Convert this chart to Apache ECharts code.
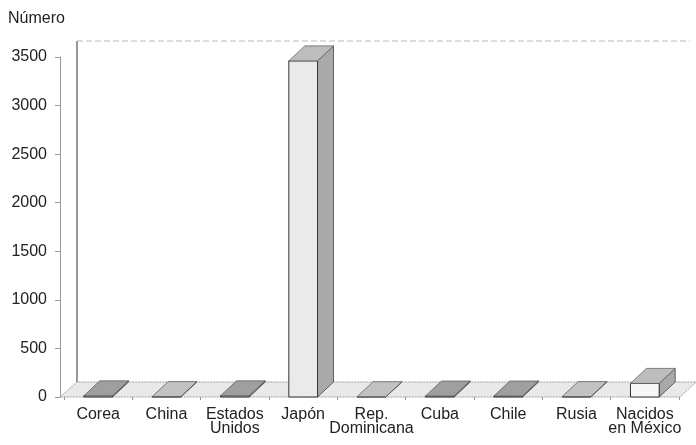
<!DOCTYPE html>
<html>
<head>
<meta charset="utf-8">
<script src="https://cdn.jsdelivr.net/npm/echarts@6/dist/echarts.min.js"></script>
<style>
  html, body { margin: 0; padding: 0; background: #fff; }
  #chart { width: 696px; height: 445px; }
</style>
</head>
<body>
<div id="chart"></div>
<script>
// categorías y valores
var paises = ['Corea', 'China', 'Estados\nUnidos', 'Japón', 'Rep.\nDominicana', 'Cuba', 'Chile', 'Rusia', 'Nacidos\nen México'];
var numero = [12, 4, 12, 3460, 3, 10, 10, 4, 140];
var yTicks = [0, 500, 1000, 1500, 2000, 2500, 3000, 3500];

var FONT = '"Liberation Sans", Arial, sans-serif';
var DX = 16, DY = 15; // profundidad 3D

var chart = echarts.init(document.getElementById('chart'));

// piso y pared del fondo
function renderFrame(params, api) {
    var cs = params.coordSys;
    var xl = cs.x - 4, xr = cs.x + cs.width + 1;
    var yb = cs.y + cs.height;
    var backX = xl + 17, backY = yb - 15;
    return {
        type: 'group',
        children: [
            { type: 'polygon', shape: { points: [[xl, yb], [backX, backY], [xr + 16, backY], [xr, yb]] },
              style: { fill: '#e9e9e9', stroke: '#8a8a8a', lineWidth: 0.8, lineDash: [2, 1] } },
            { type: 'line', shape: { x1: backX, y1: backY, x2: backX, y2: cs.y - 16 },
              style: { stroke: '#555', lineWidth: 1.2 } },
            { type: 'line', shape: { x1: backX, y1: cs.y - 16, x2: xr + 10, y2: cs.y - 16 },
              style: { stroke: '#aaa', lineWidth: 0.8, lineDash: [6, 3] } }
        ]
    };
}

function renderBar(params, api) {
    var i = api.value(0), v = api.value(1);
    var top = api.coord([i, v]);
    var base = api.coord([i, 0]);
    var w = api.size([1, 0])[0] * 0.42;
    var x0 = top[0] - w / 2, x1 = top[0] + w / 2;
    var yT = top[1], yB = base[1];
    var tall = (yB - yT) > 4;
    return {
        type: 'group',
        children: [
            { type: 'polygon', shape: { points: [[x1, yT], [x1 + DX, yT - DY], [x1 + DX, yB - DY], [x1, yB]] },
              style: { fill: '#a9a9a9', stroke: '#444', lineWidth: 0.8 } },
            { type: 'rect', shape: { x: x0, y: yT, width: w, height: yB - yT },
              style: { fill: i === 8 ? '#f7f7f7' : '#eaeaea', stroke: '#333', lineWidth: 1 } },
            { type: 'polygon', shape: { points: [[x0, yT], [x0 + DX, yT - DY], [x1 + DX, yT - DY], [x1, yT]] },
              style: { fill: tall ? '#bdbdbd' : (v > 6 ? '#9f9f9f' : '#c2c2c2'), stroke: '#555', lineWidth: 0.7 } }
        ]
    };
}

var option = {
    backgroundColor: '#fff',
    animation: false,
    textStyle: { fontFamily: FONT },
    title: {
        text: 'Número', left: 3, top: 6,
        textStyle: { fontFamily: FONT, fontSize: 16, fontWeight: 'normal', color: '#222' }
    },
    grid: { left: 64, right: 17, top: 57, bottom: 48 },
    xAxis: {
        type: 'category',
        data: paises,
        axisLine: { show: false },
        axisTick: { show: true, length: 3, lineStyle: { color: '#999' } },
        axisLabel: { fontFamily: FONT, fontSize: 16, lineHeight: 14, color: '#222', margin: 11, interval: 0 }
    },
    yAxis: {
        type: 'value',
        min: 0, max: 3500, interval: 500,
        offset: 4,
        axisLine: { show: true, lineStyle: { color: '#999', width: 1 } },
        axisTick: { show: true, length: 5, lineStyle: { color: '#999' } },
        splitLine: { show: false },
        axisLabel: {
            fontFamily: FONT, fontSize: 16, color: '#222', margin: 13,
            formatter: function (v) { return yTicks.indexOf(v) >= 0 ? String(v) : ''; }
        }
    },
    series: [
        { type: 'custom', name: 'piso', renderItem: renderFrame, data: [[0, 0]], clip: false, silent: true, z: 1 },
        { type: 'custom', name: 'Número', renderItem: renderBar, clip: false, z: 2,
          encode: { x: 0, y: 1 },
          data: numero.map(function (v, i) { return [i, v]; }) }
    ]
};

chart.setOption(option);
</script>
</body>
</html>
